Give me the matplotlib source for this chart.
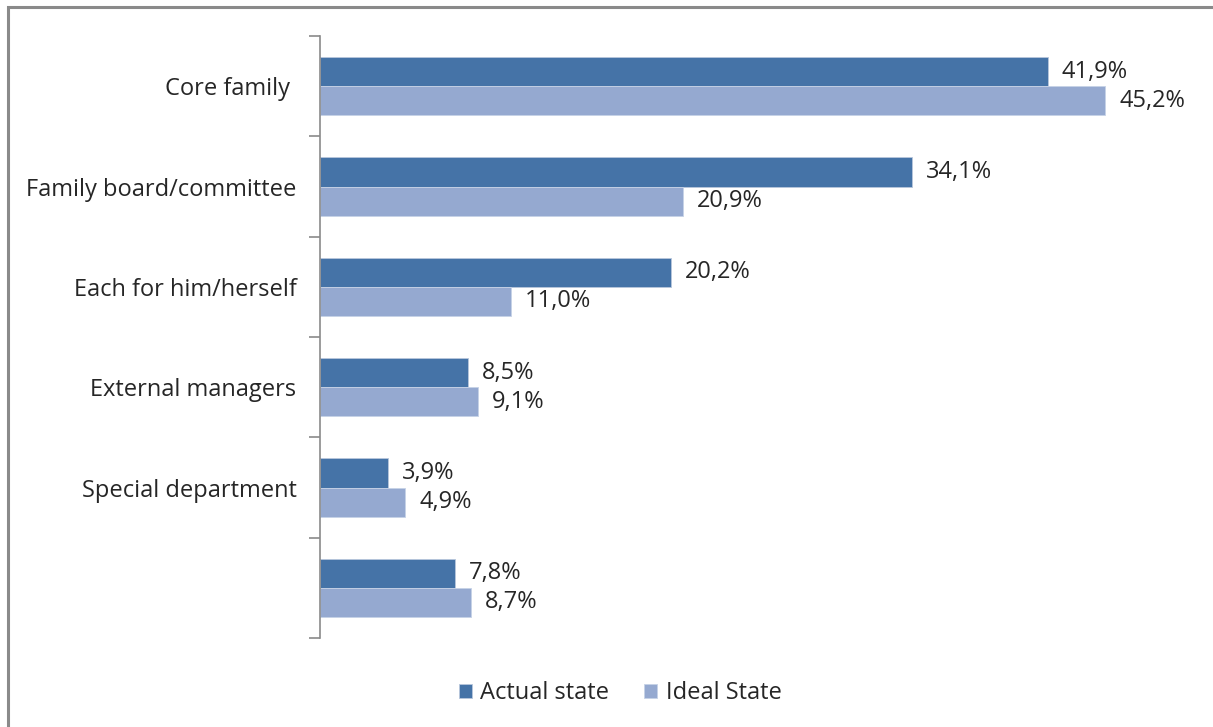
import matplotlib.pyplot as plt
import numpy as np
from matplotlib.patches import Rectangle

plt.rcParams['font.family'] = ['Open Sans', 'DejaVu Sans']

categories = ['Core family ', 'Family board/committee', 'Each for him/herself',
              'External managers', 'Special department', '']
actual = [41.9, 34.1, 20.2, 8.5, 3.9, 7.8]
ideal = [45.2, 20.9, 11.0, 9.1, 4.9, 8.7]
series_names = ['Actual state', 'Ideal State']
colors = ['#4573A7', '#95A9D0']
text_color = '#262626'
fs = 17

fig = plt.figure(figsize=(12.13, 7.27), dpi=100)
ax = fig.add_axes([320 / 1213, 89 / 727, 868.5 / 1213, 602 / 727])

# outer frame of the chart area (runs off the right and bottom edges)
top = 1 - 7 / 727
fig.patches.append(Rectangle((8 / 1213, -0.05), 1.1, top + 0.05,
                             transform=fig.transFigure, fill=False,
                             edgecolor='#8a8a8a', linewidth=2.2))

y = np.arange(len(categories))
h = 0.29
b1 = ax.barh(y - h / 2, actual, height=h, color=colors[0], edgecolor='#b8c7dc',
             linewidth=0.6, label=series_names[0])
b2 = ax.barh(y + h / 2, ideal, height=h, color=colors[1], edgecolor='#c6d2e6',
             linewidth=0.6, label=series_names[1])

for bars, vals in ((b1, actual), (b2, ideal)):
    for bar, v in zip(bars, vals):
        ax.annotate(f'{v:.1f}%'.replace('.', ','),
                    (v, bar.get_y() + bar.get_height() / 2),
                    xytext=(10, 0), textcoords='offset points',
                    va='center', ha='left', fontsize=fs, color=text_color)

ax.set_xlim(0, 50)
ax.set_ylim(len(categories) - 0.5, -0.5)
ax.set_yticks(y)
ax.set_yticklabels(categories, fontsize=fs, color=text_color)
ax.tick_params(axis='y', length=0, pad=17)
ax.set_yticks(np.arange(-0.5, len(categories)), minor=True)
ax.tick_params(axis='y', which='minor', length=8, width=1.2, color='#8a8a8a')
ax.set_xticks([])
for s in ('top', 'right', 'bottom'):
    ax.spines[s].set_visible(False)
ax.spines['left'].set_color('#8a8a8a')
ax.spines['left'].set_linewidth(1.2)

fig.legend(handles=[b1, b2], loc='center', bbox_to_anchor=(620 / 1213, 34 / 727),
           ncol=2, frameon=False, fontsize=fs, handlelength=0.55, handleheight=0.55,
           handletextpad=0.35, columnspacing=1.5, labelcolor=text_color)

fig.savefig('out.png', dpi=100)
